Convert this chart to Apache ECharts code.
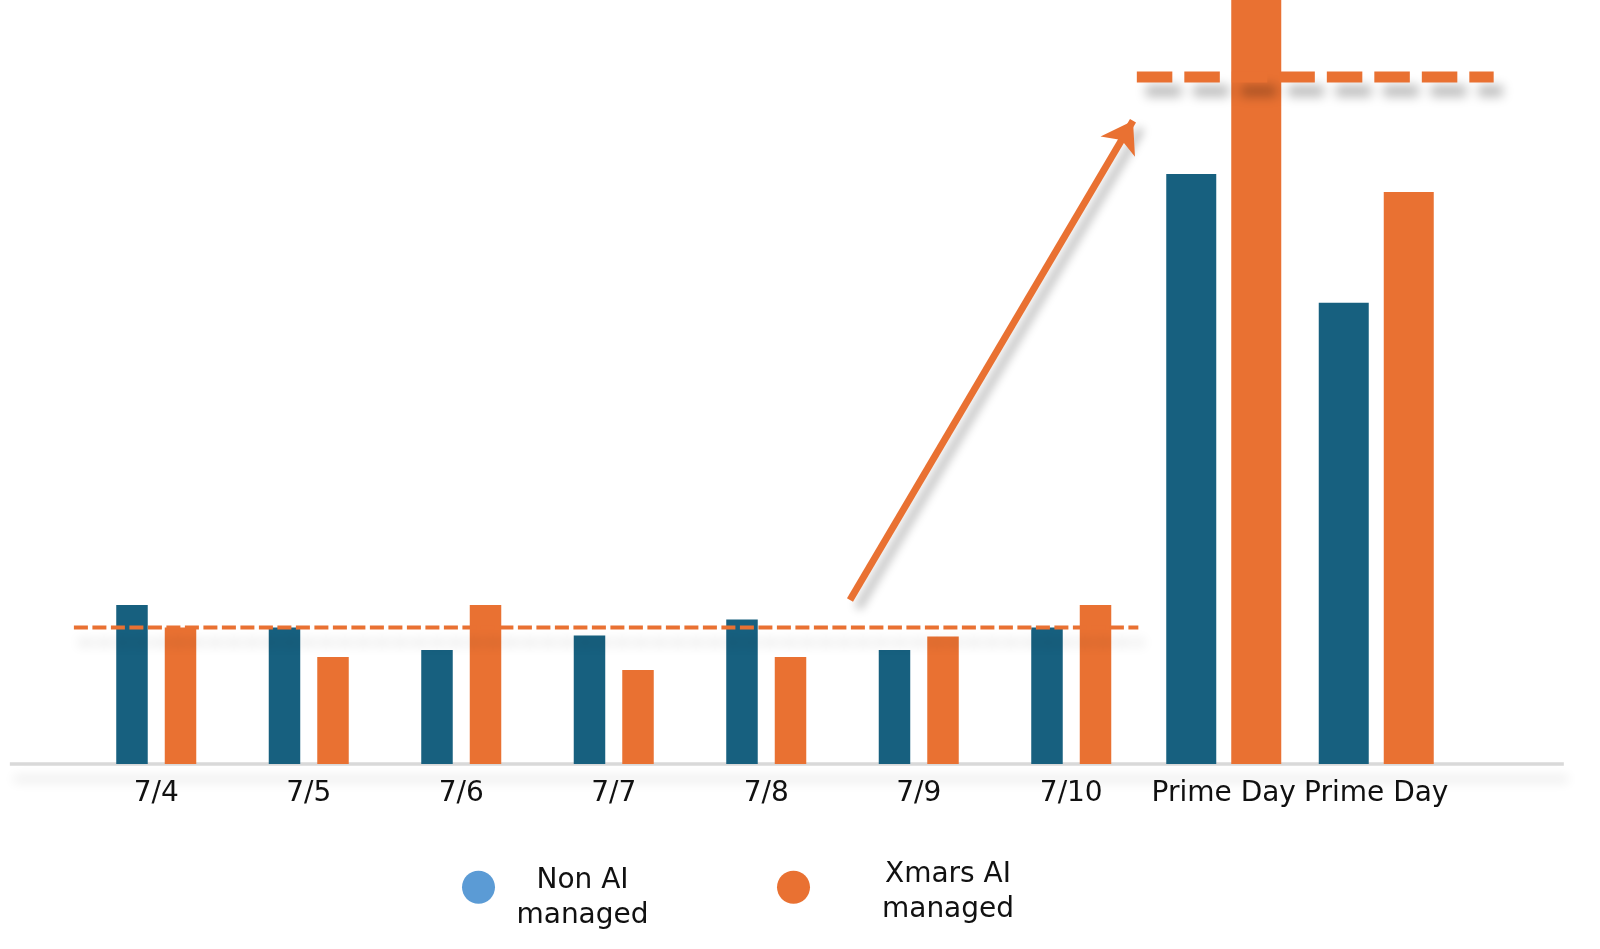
<!DOCTYPE html>
<html>
<head>
<meta charset="utf-8">
<script src="https://cdn.jsdelivr.net/npm/echarts@6/dist/echarts.min.js"></script>
<style>
html,body{margin:0;padding:0;background:#fff;}
#c{width:1600px;height:949px;}
</style>
</head>
<body>
<div id="c"></div>
<script>
// ---- data ----
const categories = ['7/4', '7/5', '7/6', '7/7', '7/8', '7/9', '7/10', 'Prime Day', 'Prime Day'];
const nonAI = [116.5, 100, 83.6, 94.2, 105.9, 83.6, 100, 432.5, 338];
const xmarsAI = [100, 78.4, 116.5, 68.9, 78.4, 93.5, 116.5, 600, 419.3];
const wideFrom = 7; // Prime Day columns are drawn wider
const seriesNames = ['Non AI managed', 'Xmars AI managed'];
// reference lines (x in category units, y in values)
const baselineLevel = 100;
const peakLevel = 503.6;
const baselineSpan = [-0.54, 6.44];
const peakSpan = [6.43, 8.77];
const axisSpan = [-0.96, 9.23];
const trendArrow = [[4.549, 120.2], [6.405, 471.5]];
const yMax = 560;

const BLUE = '#17607F', ORANGE = '#E97132', LEGEND_BLUE = '#5B9BD5';
const FONT = 'DejaVu Sans';

// layout
const W = 1600, H = 949;
const gLeft = 80, gRight = 147.5, gBottom = 185;
const band = (W - gLeft - gRight) / categories.length;
const plotH = H - gBottom;
// overlay grid covering the whole canvas, sharing the same data scales
const ovXMin = -0.5 - gLeft / band;
const ovXMax = categories.length - 0.5 + gRight / band;
const ovYMin = -gBottom * yMax / plotH;

const narrow = arr => arr.map((v, i) => i < wideFrom ? v : null);
const wide = arr => arr.map((v, i) => i >= wideFrom ? v : null);

const chart = echarts.init(document.getElementById('c'), null, {renderer: 'canvas'});
chart.setOption({
  animation: false,
  backgroundColor: '#ffffff',
  grid: [
    {left: gLeft, right: gRight, top: 0, bottom: gBottom},
    {left: 0, right: 0, top: 0, bottom: 0}
  ],
  xAxis: [
    {type: 'category', gridIndex: 0, data: categories, boundaryGap: true,
     axisLine: {show: false}, axisTick: {show: false}, splitLine: {show: false},
     axisLabel: {interval: 0, margin: 16, fontFamily: FONT, fontSize: 28, lineHeight: 28, color: '#111'}},
    {type: 'category', gridIndex: 0, data: categories, show: false},
    {type: 'value', gridIndex: 1, min: ovXMin, max: ovXMax, show: false}
  ],
  yAxis: [
    {type: 'value', gridIndex: 0, min: 0, max: yMax, show: false, splitLine: {show: false}},
    {type: 'value', gridIndex: 1, min: ovYMin, max: yMax, show: false, splitLine: {show: false}}
  ],
  legend: {
    left: 462, top: 861, padding: 0, itemWidth: 33, itemHeight: 33, itemGap: 112,
    icon: 'circle', selectedMode: false,
    data: [
      {name: seriesNames[0], itemStyle: {color: LEGEND_BLUE}, textStyle: {padding: [22, 0, 0, 0]}},
      {name: seriesNames[1], itemStyle: {color: ORANGE}, textStyle: {padding: [10, 0, 0, 0]}}
    ],
    formatter: n => n === seriesNames[0] ? '{b|Non AI}\n{b|managed}' : '{o|Xmars AI}\n{o|managed}',
    textStyle: {
      rich: {
        b: {width: 165, align: 'center', fontSize: 28, lineHeight: 34.5, fontFamily: FONT, color: '#111'},
        o: {width: 266, align: 'center', fontSize: 28, lineHeight: 34.5, fontFamily: FONT, color: '#111'}
      }
    }
  },
  series: [
    {name: seriesNames[0], type: 'bar', xAxisIndex: 0, yAxisIndex: 0, data: narrow(nonAI), barWidth: 31.5, barGap: '54%', itemStyle: {color: BLUE}},
    {name: seriesNames[1], type: 'bar', xAxisIndex: 0, yAxisIndex: 0, data: narrow(xmarsAI), barWidth: 31.5, barGap: '54%', itemStyle: {color: ORANGE}},
    {name: seriesNames[0], type: 'bar', xAxisIndex: 1, yAxisIndex: 0, data: wide(nonAI), barWidth: 50, barGap: '30%', itemStyle: {color: BLUE}},
    {name: seriesNames[1], type: 'bar', xAxisIndex: 1, yAxisIndex: 0, data: wide(xmarsAI), barWidth: 50, barGap: '30%', itemStyle: {color: ORANGE}},
    {name: 'axis', type: 'line', xAxisIndex: 2, yAxisIndex: 1, clip: false, symbol: 'none', silent: true, z: 1,
     data: [[axisSpan[0], 0], [axisSpan[1], 0]],
     lineStyle: {color: '#d9d9d9', width: 3.5, shadowColor: 'rgba(0,0,0,0.16)', shadowBlur: 12, shadowOffsetX: 4, shadowOffsetY: 15}},
    {name: 'avg', type: 'line', xAxisIndex: 2, yAxisIndex: 1, clip: false, symbol: 'none', silent: true, z: 5,
     data: [[baselineSpan[0], baselineLevel], [baselineSpan[1], baselineLevel]],
     lineStyle: {color: ORANGE, width: 4, type: [14, 4.5], shadowColor: 'rgba(0,0,0,0.17)', shadowBlur: 12, shadowOffsetX: 5, shadowOffsetY: 15}},
    {name: 'peak', type: 'line', xAxisIndex: 2, yAxisIndex: 1, clip: false, symbol: 'none', silent: true, z: 5,
     data: [[peakSpan[0], peakLevel], [peakSpan[1], peakLevel]],
     lineStyle: {color: ORANGE, width: 11, type: [35.5, 12], shadowColor: 'rgba(0,0,0,0.28)', shadowBlur: 11, shadowOffsetX: 9, shadowOffsetY: 14}},
    {name: 'trend', type: 'lines', coordinateSystem: 'cartesian2d', xAxisIndex: 2, yAxisIndex: 1, z: 5, silent: true,
     symbol: ['none', 'arrow'], symbolSize: [28, 30],
     data: [{coords: trendArrow}],
     lineStyle: {color: ORANGE, width: 7, opacity: 1, shadowColor: 'rgba(0,0,0,0.28)', shadowBlur: 10, shadowOffsetX: 8, shadowOffsetY: 8}}
  ]
});
</script>
</body>
</html>
